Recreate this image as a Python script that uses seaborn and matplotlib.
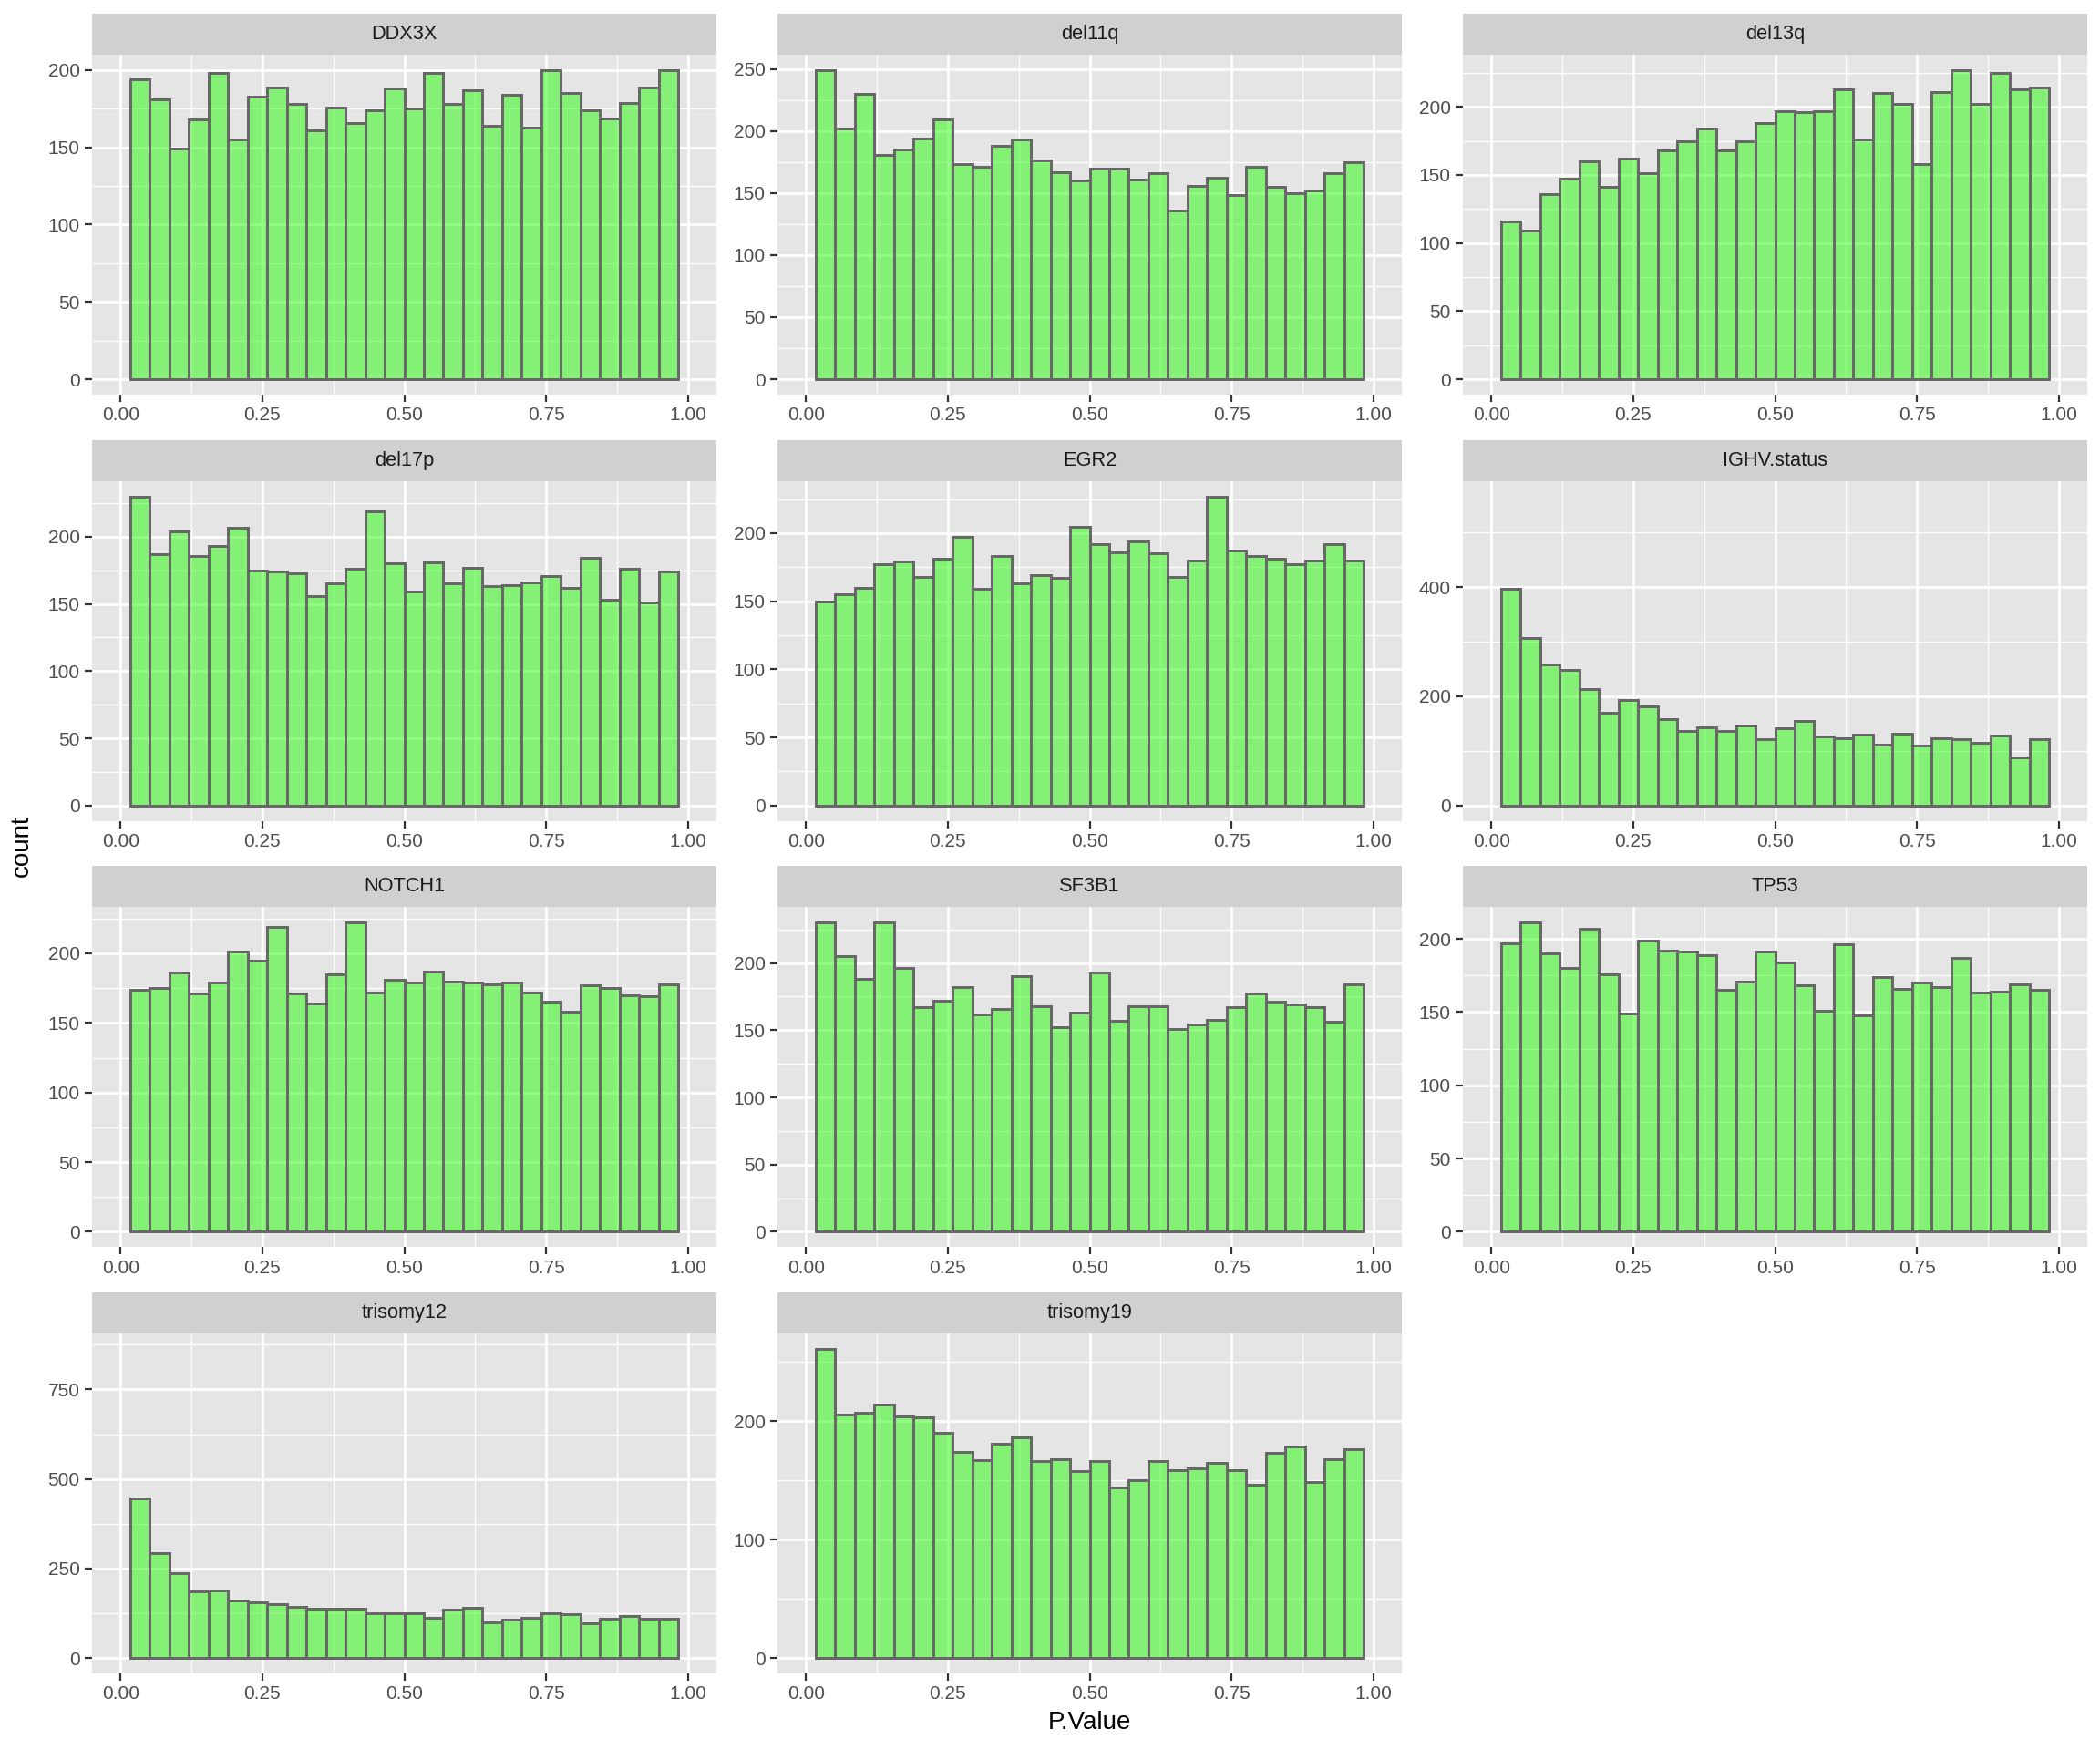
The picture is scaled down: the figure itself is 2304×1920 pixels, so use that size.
import numpy as np
import pandas as pd
import matplotlib
matplotlib.use("Agg")
import matplotlib.pyplot as plt
import seaborn as sns
from matplotlib.ticker import MultipleLocator, FormatStrFormatter

# ---------------- data (counts per histogram bin, bins=30 on [0,1], edge bins dropped) -------------
features = ["DDX3X", "del11q", "del13q", "del17p", "EGR2", "IGHV.status",
            "NOTCH1", "SF3B1", "TP53", "trisomy12", "trisomy19"]

DDX3X = [194, 181, 149, 168, 198, 155, 183, 189, 178, 161, 176, 166, 174, 188,
         175, 198, 178, 187, 164, 184, 163, 200, 185, 174, 169, 179, 189, 200]
del11q = [249, 202, 230, 181, 185, 194, 209, 173, 171, 188, 193, 176, 167, 160,
          170, 170, 161, 166, 136, 156, 162, 148, 171, 155, 150, 152, 166, 175]
del13q = [116, 109, 136, 147, 160, 141, 162, 151, 168, 175, 184, 168, 175, 188,
          197, 196, 197, 213, 176, 210, 202, 158, 211, 227, 202, 225, 213, 214]
del17p = [230, 187, 204, 186, 193, 207, 175, 174, 173, 156, 165, 176, 219, 180,
          159, 181, 165, 177, 163, 164, 166, 171, 162, 184, 153, 176, 151, 174]
EGR2 = [150, 155, 160, 177, 179, 168, 181, 197, 159, 183, 163, 169, 167, 205,
        192, 186, 194, 185, 168, 180, 227, 187, 183, 181, 177, 180, 192, 180]
IGHV_status = [397, 306, 259, 249, 214, 170, 193, 182, 158, 137, 143, 137, 147, 122,
               141, 155, 127, 123, 130, 112, 131, 109, 123, 122, 114, 128, 88, 121]
NOTCH1 = [174, 175, 186, 171, 179, 201, 195, 219, 171, 164, 185, 222, 172, 181,
          179, 187, 180, 179, 178, 179, 172, 165, 158, 177, 175, 170, 169, 178]
SF3B1 = [230, 205, 188, 230, 196, 167, 172, 182, 162, 166, 190, 168, 152, 163,
         193, 157, 168, 168, 151, 154, 158, 167, 177, 171, 169, 167, 156, 184]
TP53 = [197, 211, 190, 180, 207, 176, 149, 199, 192, 191, 189, 165, 171, 191,
        184, 168, 151, 196, 148, 174, 166, 170, 167, 187, 163, 164, 169, 165]
trisomy12 = [445, 294, 238, 185, 189, 160, 155, 150, 143, 137, 137, 137, 126, 126,
             126, 112, 134, 141, 99, 108, 112, 126, 122, 98, 110, 118, 110, 110]
trisomy19 = [261, 206, 207, 214, 204, 203, 190, 174, 167, 181, 186, 166, 168, 158,
             166, 144, 150, 166, 159, 160, 165, 159, 146, 173, 179, 149, 168, 176]

counts = {
    "DDX3X": DDX3X, "del11q": del11q, "del13q": del13q, "del17p": del17p,
    "EGR2": EGR2, "IGHV.status": IGHV_status, "NOTCH1": NOTCH1, "SF3B1": SF3B1,
    "TP53": TP53, "trisomy12": trisomy12, "trisomy19": trisomy19,
}

# counts of the (dropped) first bin below 0, which still set the y range in ggplot
hidden_edge_count = {"IGHV.status": 566, "trisomy12": 863}

# y-axis break spacing for each facet
y_break_step = {"DDX3X": 50, "del11q": 50, "del13q": 50, "del17p": 50, "EGR2": 50,
                "IGHV.status": 200, "NOTCH1": 50, "SF3B1": 50, "TP53": 50,
                "trisomy12": 250, "trisomy19": 100}

x_ticks = [0.0, 0.25, 0.5, 0.75, 1.0]
x_label = "P.Value"
y_label = "count"

# ggplot-like binning: 30 bins of width 1/29 centred on 0..1; outer two removed by limits
n_bins = 30
bw = 1.0 / (n_bins - 1)
all_edges = np.linspace(-bw / 2, 1 + bw / 2, n_bins + 1)
edges = [float(e) for e in all_edges[1:-1]]
centers = [(a + b) / 2 for a, b in zip(edges[:-1], edges[1:])]

rows = []
for f in features:
    for c, n in zip(centers, counts[f]):
        rows.append({"feature": f, "P.Value": c, "count": n})
df = pd.DataFrame(rows)

# ---------------- style -------------
sns.set_theme(style="white")
plt.rcParams["font.family"] = ["Liberation Sans", "DejaVu Sans"]

W, H = 2304, 1920
fig = plt.figure(figsize=(14.4, 12), dpi=160)

col_left_px = [101, 853, 1605]
panel_w_px = 685
panel_h_px = 373
strip_h_px = 45
row_top_px = [60 + 467.7 * r for r in range(4)]

fill_rgba = (39 / 255, 251 / 255, 9 / 255, 0.5)
edge_col = "#686868"
panel_bg = "#E5E5E5"
strip_bg = "#D0D0D0"

for i, f in enumerate(features):
    r, c = divmod(i, 3)
    left = col_left_px[c] / W
    top = row_top_px[r]
    ax = fig.add_axes([left, 1 - (top + panel_h_px) / H, panel_w_px / W, panel_h_px / H])
    ax.set_facecolor(panel_bg)
    sub = df[df["feature"] == f]
    sns.histplot(data=sub, x="P.Value", weights="count", bins=edges, ax=ax,
                 stat="count", legend=False)
    for p in ax.patches:
        p.set_facecolor(fill_rgba)
        p.set_edgecolor(edge_col)
        p.set_linewidth(1.35)
        p.set_zorder(3)

    M = max(max(counts[f]), hidden_edge_count.get(f, 0))
    ax.set_ylim(-0.05 * M, 1.05 * M)
    ax.set_xlim(-0.05, 1.05)

    step = y_break_step[f]
    ax.yaxis.set_major_locator(MultipleLocator(step))
    ax.yaxis.set_minor_locator(MultipleLocator(step / 2))
    ax.yaxis.set_major_formatter(FormatStrFormatter("%d"))
    ax.set_xticks(x_ticks)
    ax.xaxis.set_minor_locator(MultipleLocator(0.125))
    ax.xaxis.set_major_formatter(FormatStrFormatter("%.2f"))

    ax.grid(which="major", color="white", linewidth=1.2, zorder=0)
    ax.grid(which="minor", color="white", linewidth=0.6, zorder=0)
    ax.set_axisbelow(True)
    for s in ax.spines.values():
        s.set_visible(False)
    ax.tick_params(which="major", length=3.5, width=1.0, color="#333333",
                   labelsize=9.4, labelcolor="#4D4D4D", pad=2.5,
                   bottom=True, left=True)
    ax.tick_params(which="minor", length=0, bottom=False, left=False)
    ax.set_xlabel("")
    ax.set_ylabel("")

    # facet strip
    sax = fig.add_axes([left, 1 - top / H, panel_w_px / W, strip_h_px / H])
    sax.set_facecolor(strip_bg)
    sax.set_xticks([])
    sax.set_yticks([])
    for s in sax.spines.values():
        s.set_visible(False)
    sax.text(0.5, 0.5, f, ha="center", va="center", fontsize=9.8,
             color="#1A1A1A", transform=sax.transAxes)

fig.text(1195 / W, 1 - 1890 / H, x_label, ha="center", va="center", fontsize=12.5,
         color="black")
fig.text(24 / W, 1 - 928 / H, y_label, ha="center", va="center", rotation=90,
         fontsize=12.5, color="black")

fig.savefig("out.png", dpi=160, facecolor="white")
